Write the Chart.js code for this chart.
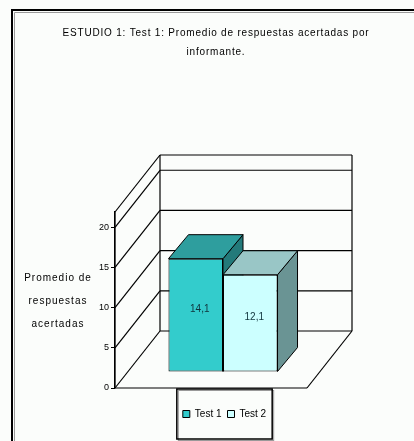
<!DOCTYPE html>
<html>
<head>
<meta charset="utf-8">
<script src="https://cdn.jsdelivr.net/npm/chart.js@4.4.1/dist/chart.umd.min.js"></script>
<style>
    html, body { margin: 0; padding: 0; background: #fbfdfb; overflow: hidden; }
    #wrap { position: absolute; left: 0; top: 0; width: 449px; height: 441px; }
</style>
</head>
<body>
<div id="wrap"><canvas id="grafico"></canvas></div>
<script>
const titleLines = ["ESTUDIO 1: Test 1: Promedio de respuestas acertadas por", "informante."];
const yLabelLines = ["Promedio de", "respuestas", "acertadas"];
const categories = [""];
const seriesNames = ["Test 1", "Test 2"];
const test1 = [14.1];
const test2 = [12.1];
const yTicks = [0, 5, 10, 15, 20];
const yMax = 21.9;

const frontColors = ["#33CCCC", "#CCFFFF"];
const topColors = ["#2E9E9E", "#99C6C6"];
const sideColors = ["#237A7A", "#6A9494"];

// profundidad del grafico 3D
const WALL_DX = 45, WALL_DY = -57;
const BAR_SHIFT_X = 12, BAR_SHIFT_Y = -16;
const BAR_DX = 20, BAR_DY = -24;
const FONT = "'Liberation Sans', Arial, sans-serif";

function poly(ctx, pts, fill) {
    ctx.beginPath();
    ctx.moveTo(pts[0][0], pts[0][1]);
    for (let i = 1; i < pts.length; i++) ctx.lineTo(pts[i][0], pts[i][1]);
    ctx.closePath();
    if (fill) {
        ctx.fillStyle = fill;
        ctx.fill();
    }
    ctx.stroke();
}

function seg(ctx, x1, y1, x2, y2) {
    ctx.beginPath();
    ctx.moveTo(x1, y1);
    ctx.lineTo(x2, y2);
    ctx.stroke();
}

const plot3d = {
    id: "plot3d",
    beforeDraw(chart) {
        const ctx = chart.ctx;
        ctx.save();
        // marco exterior
        ctx.strokeStyle = "#9a9a9a";
        ctx.lineWidth = 1;
        ctx.beginPath();
        ctx.moveTo(14.5, 441);
        ctx.lineTo(14.5, 12.5);
        ctx.lineTo(449, 12.5);
        ctx.stroke();
        ctx.strokeStyle = "#000";
        ctx.lineWidth = 2;
        ctx.beginPath();
        ctx.moveTo(12, 441);
        ctx.lineTo(12, 10);
        ctx.lineTo(449, 10);
        ctx.stroke();

        ctx.fillStyle = "#000";
        ctx.font = "10px " + FONT;
        ctx.textAlign = "center";
        ctx.textBaseline = "middle";
        ctx.letterSpacing = "0.8px";
        ctx.fillText(titleLines[0], 216, 33);
        ctx.fillText(titleLines[1], 216, 52);

        ctx.letterSpacing = "1px";
        yLabelLines.forEach((t, i) => ctx.fillText(t, 58, 278 + i * 23));
        ctx.restore();
    },
    beforeDatasetsDraw(chart) {
        const ctx = chart.ctx;
        const a = chart.chartArea;
        const ys = chart.scales.y;
        const y0 = ys.getPixelForValue(0);
        const yTop = ys.getPixelForValue(yMax);
        const levels = [yTop].concat(yTicks.map(v => ys.getPixelForValue(v)));
        ctx.save();
        ctx.strokeStyle = "#000";
        ctx.lineWidth = 1.2;
        // pared izquierda
        levels.forEach(py => seg(ctx, a.left, py, a.left + WALL_DX, py + WALL_DY));
        // pared del fondo
        levels.forEach(py => seg(ctx, a.left + WALL_DX, py + WALL_DY, a.right + WALL_DX, py + WALL_DY));
        seg(ctx, a.left + WALL_DX, yTop + WALL_DY, a.left + WALL_DX, y0 + WALL_DY);
        seg(ctx, a.right + WALL_DX, yTop + WALL_DY, a.right + WALL_DX, y0 + WALL_DY);
        // piso
        seg(ctx, a.left, y0, a.right, y0);
        seg(ctx, a.right, y0, a.right + WALL_DX, y0 + WALL_DY);
        seg(ctx, a.left, yTop, a.left, y0);
        ctx.restore();

        // caras superiores y laterales
        ctx.save();
        ctx.translate(BAR_SHIFT_X, BAR_SHIFT_Y);
        ctx.strokeStyle = "#000";
        ctx.lineWidth = 1;
        chart.data.datasets.forEach((ds, i) => {
            const bar = chart.getDatasetMeta(i).data[0];
            const l = bar.x - bar.width / 2, r = bar.x + bar.width / 2;
            poly(ctx, [[r, bar.y], [r + BAR_DX, bar.y + BAR_DY], [r + BAR_DX, bar.base + BAR_DY], [r, bar.base]], sideColors[i]);
            poly(ctx, [[l, bar.y], [l + BAR_DX, bar.y + BAR_DY], [r + BAR_DX, bar.y + BAR_DY], [r, bar.y]], topColors[i]);
        });
    },
    afterDatasetsDraw(chart) {
        const ctx = chart.ctx;
        ctx.fillStyle = "#10343c";
        ctx.font = "10px " + FONT;
        ctx.textAlign = "center";
        ctx.textBaseline = "middle";
        chart.data.datasets.forEach((ds, i) => {
            const bar = chart.getDatasetMeta(i).data[0];
            ctx.fillText(String(ds.data[0]).replace(".", ","), bar.x + 4, (bar.y + bar.base) / 2 - 6);
        });
        ctx.restore();
    },
    afterDraw(chart) {
        const ctx = chart.ctx;
        const boxes = chart.legend.legendHitBoxes;
        if (!boxes || !boxes.length) return;
        const left = Math.min(...boxes.map(b => b.left)) - 6;
        const right = Math.max(...boxes.map(b => b.left + b.width)) + 6;
        const cy = boxes[0].top + boxes[0].height / 2;
        ctx.save();
        ctx.strokeStyle = "#999";
        ctx.lineWidth = 1;
        ctx.strokeRect(left + 1.5, cy - 23.5, right - left, 50);
        ctx.strokeStyle = "#000";
        ctx.lineWidth = 1.5;
        ctx.strokeRect(left, cy - 25, right - left, 50);
        ctx.restore();
    },
};

Chart.defaults.font.family = FONT;
Chart.defaults.color = "#000";

const ctxGrafico = document.getElementById("grafico").getContext("2d");

new Chart(ctxGrafico, {
    type: "bar",
    data: {
        labels: categories,
        datasets: [
            {
                label: seriesNames[0],
                data: test1,
                backgroundColor: frontColors[0],
                borderColor: "#000",
                borderWidth: 1,
                borderSkipped: false,
            },
            {
                label: seriesNames[1],
                data: test2,
                backgroundColor: frontColors[1],
                borderColor: "#000",
                borderWidth: 1,
                borderSkipped: false,
            },
        ],
    },
    options: {
        responsive: true,
        maintainAspectRatio: false,
        animation: false,
        layout: {
            padding: { left: 0, right: 0, top: 212, bottom: 12 },
        },
        datasets: {
            bar: {
                categoryPercentage: 0.568,
                barPercentage: 1,
            },
        },
        scales: {
            x: {
                display: true,
                grid: { display: false },
                border: { display: false },
                ticks: { display: false },
                afterFit: (s) => { s.height = 15; },
            },
            y: {
                min: 0,
                max: yMax,
                afterBuildTicks: (s) => {
                    s.ticks = yTicks.map(v => ({ value: v }));
                },
                grid: {
                    drawOnChartArea: false,
                    drawTicks: true,
                    tickLength: 4,
                    color: "#000",
                },
                border: { display: true, color: "#000", width: 1.2 },
                ticks: {
                    font: { size: 9 },
                    color: "#000",
                    padding: 2,
                },
                afterFit: (s) => { s.width = 115; },
            },
            yRight: {
                position: "right",
                display: true,
                grid: { display: false },
                border: { display: false },
                ticks: { display: false },
                afterFit: (s) => { s.width = 142; },
            },
        },
        plugins: {
            legend: {
                display: true,
                position: "bottom",
                labels: {
                    font: { size: 10 },
                    color: "#000",
                    boxWidth: 7,
                    boxHeight: 7,
                    padding: 6,
                },
            },
            title: { display: false },
            tooltip: { enabled: false },
        },
    },
    plugins: [plot3d],
});
</script>
</body>
</html>
